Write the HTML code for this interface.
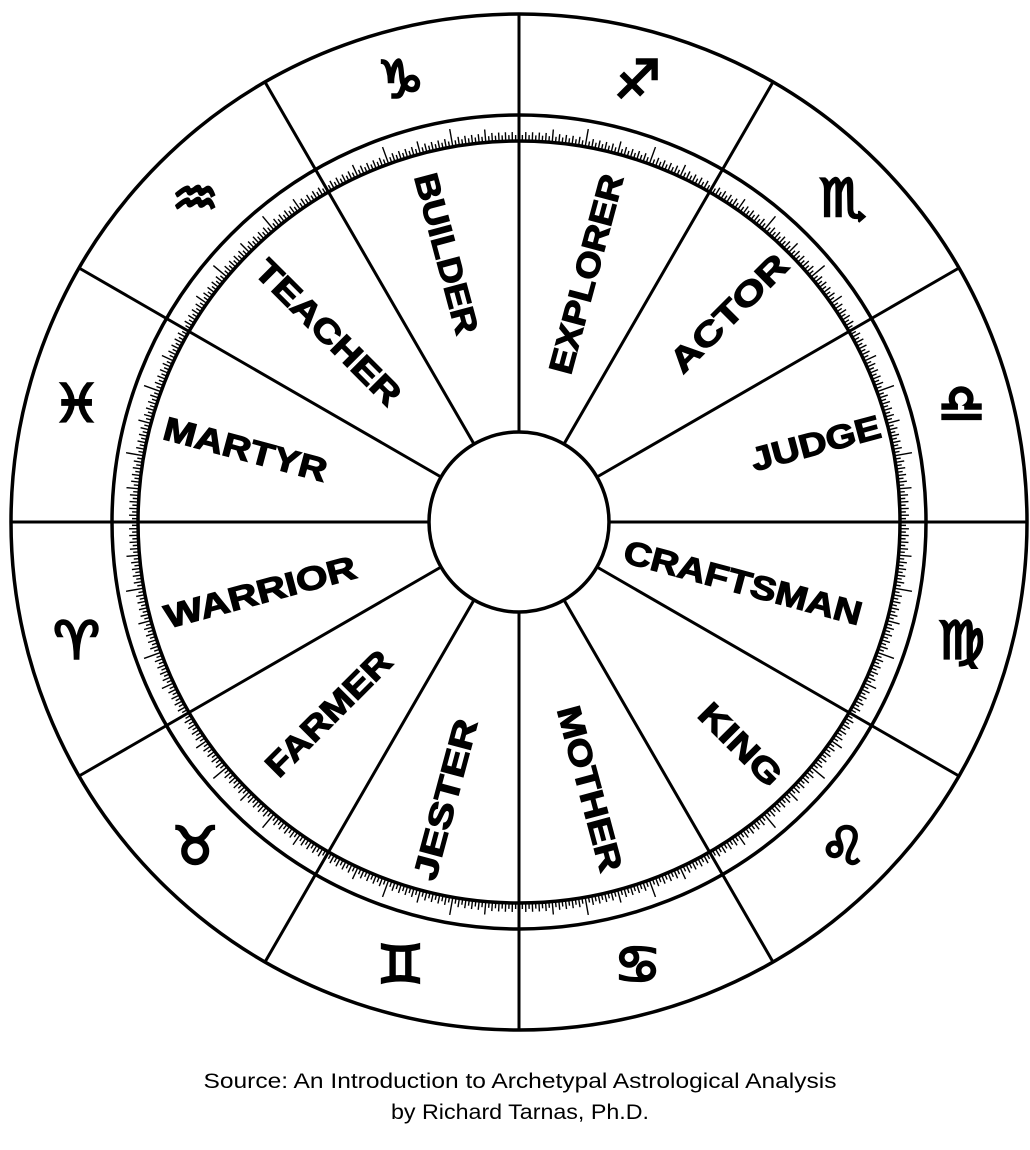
<!DOCTYPE html>
<html><head><meta charset="utf-8"><style>
html,body{margin:0;padding:0;background:#fff;}
svg{display:block;}
</style></head><body>
<svg id="s" width="1030" height="1150" viewBox="0 0 1030 1150" xmlns="http://www.w3.org/2000/svg">
<rect width="1030" height="1150" fill="#fff"/>
<g id="lines" stroke="#000" stroke-width="3"></g>
<circle cx="519" cy="522" r="508" fill="none" stroke="#000" stroke-width="3.5"/>
<circle cx="519" cy="522" r="407" fill="none" stroke="#000" stroke-width="3.5"/>
<circle cx="519" cy="522" r="381" fill="none" stroke="#000" stroke-width="3.5"/>
<g id="ticks" stroke="#000" stroke-width="1.4"></g>
<circle cx="519" cy="522" r="90" fill="#fff" stroke="#000" stroke-width="3.5"/>
<g id="labels" font-family="'Liberation Sans', sans-serif" font-weight="bold" font-size="33" fill="#000" stroke="#000" stroke-width="1.2"></g>
<g id="signs" font-family="'DejaVu Sans', sans-serif" font-size="52" fill="#000" stroke="#000" stroke-width="2.5" text-anchor="middle"></g>
<text x="520" y="1088" font-family="'Liberation Sans', sans-serif" font-size="21" text-anchor="middle" textLength="633" lengthAdjust="spacingAndGlyphs">Source: An Introduction to Archetypal Astrological Analysis</text>
<text x="520" y="1119" font-family="'Liberation Sans', sans-serif" font-size="21" text-anchor="middle" textLength="258" lengthAdjust="spacingAndGlyphs">by Richard Tarnas, Ph.D.</text>
</svg>
<script>
var NS="http://www.w3.org/2000/svg",cx=519,cy=522;
function el(t,a,p,txt){var e=document.createElementNS(NS,t);for(var k in a)e.setAttribute(k,a[k]);if(txt)e.textContent=txt;document.getElementById(p).appendChild(e);return e;}
function pt(r,deg){var a=deg*Math.PI/180;return [cx+r*Math.cos(a),cy-r*Math.sin(a)];}
for(var i=0;i<12;i++){var d=i*30,p1=pt(90,d),p2=pt(508,d);el('line',{x1:p1[0],y1:p1[1],x2:p2[0],y2:p2[1]},'lines');}
for(var j=0;j<720;j++){var i=j/2;var L=(j%20==0)?18:(j%10==0)?13:(j%2==0)?9:6;var p1=pt(381,i),p2=pt(381+L,i);el('line',{x1:p1[0],y1:p1[1],x2:p2[0],y2:p2[1]},'ticks');}
var labs=[["JUDGE",15,307,133,-15],["EXPLORER",75,257,205,-75],["ACTOR",45,296,152,-45],["CRAFTSMAN",-15,232,245,15],["KING",-45,314,103,45],["MOTHER",-75,276,170,75],["JESTER",-105,287,165,-75],["FARMER",-135,270,163,-45],["WARRIOR",195,268,197,-15],["MARTYR",165,283,168,15],["TEACHER",135,269,191,45],["BUILDER",105,278,165,75]];
labs.forEach(function(l){var p=pt(l[2],l[1]);el('text',{x:0,y:12,'text-anchor':'middle',textLength:l[3],lengthAdjust:'spacingAndGlyphs',transform:'translate('+p[0]+','+p[1]+') rotate('+l[4]+')'},'labels',l[0]);});
var sg=[["\u2651\uFE0E",105],["\u2650\uFE0E",75],["\u264F\uFE0E",45],["\u264E\uFE0E",15],["\u264D\uFE0E",-15],["\u264C\uFE0E",-45],["\u264B\uFE0E",-75],["\u264A\uFE0E",-105],["\u2649\uFE0E",-135],["\u2648\uFE0E",-165],["\u2653\uFE0E",165],["\u2652\uFE0E",135]];
sg.forEach(function(s){var p=pt(458,s[1]);el('text',{x:p[0],y:p[1]+18},'signs',s[0]);});
</script>
</body></html>
